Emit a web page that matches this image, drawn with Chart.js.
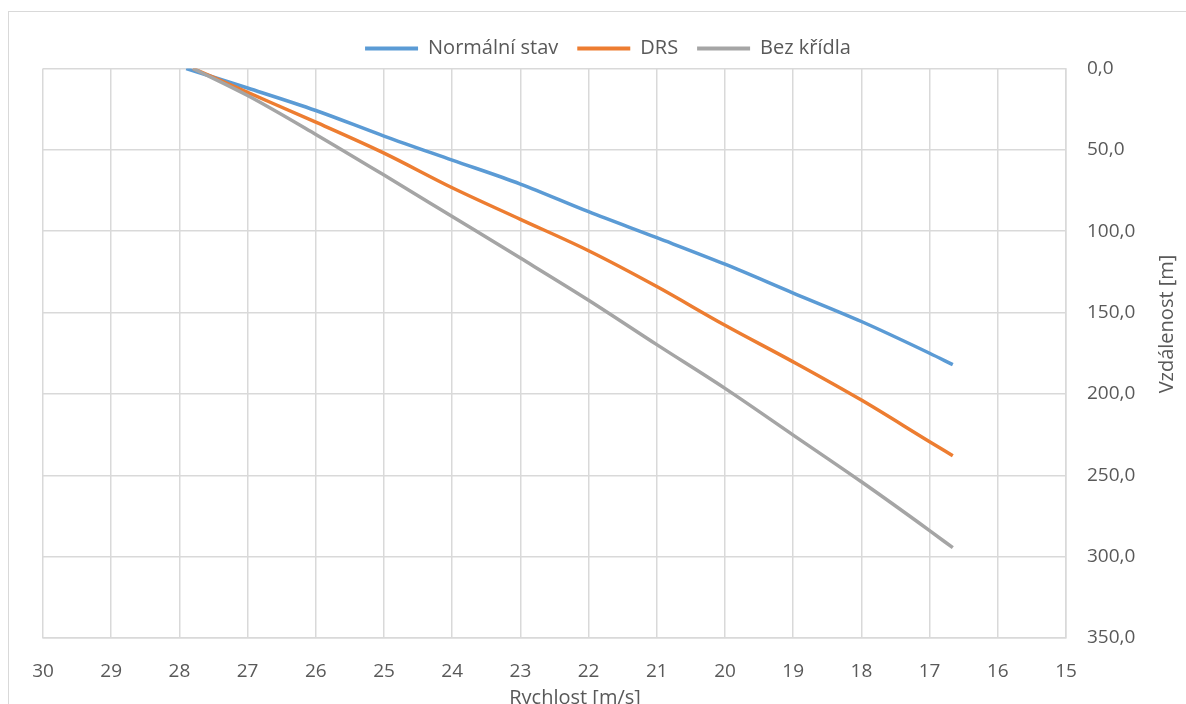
<!DOCTYPE html>
<html>
<head>
<meta charset="utf-8">
<title>Rychlost a vzdálenost</title>
<script src="https://cdn.jsdelivr.net/npm/chart.js@4.4.1/dist/chart.umd.min.js"></script>
<style>
  html, body { margin: 0; padding: 0; background: #fff; overflow: hidden; }
  #wrap { position: relative; width: 1186px; height: 704px; overflow: hidden; }
  #frame { position: absolute; left: 8px; top: 11px; width: 1300px; height: 800px;
           border: 1px solid #d9d9d9; box-sizing: border-box; }
  canvas { position: absolute; left: 0; top: 0; }
</style>
</head>
<body>
<div id="wrap">
  <div id="frame"></div>
  <canvas id="c" width="1186" height="720"></canvas>
</div>
<script>
// Speed [m/s] against distance travelled [m] while braking
const seriesNames = ['Normální stav', 'DRS', 'Bez křídla'];
const seriesColors = ['#5B9BD5', '#ED7D31', '#A5A5A5'];

const speedNormal = [27.9, 27, 26, 25, 24, 23, 22, 21, 20, 19, 18, 17, 16.66];
const distNormal  = [0, 12, 25.8, 41.5, 56.3, 71, 88, 104, 120.3, 138, 155.5, 175, 182];

const speedDrs = [27.8, 27, 26, 25, 24, 23, 22, 21, 20, 19, 18, 17, 16.66];
const distDrs  = [0, 14.7, 33, 52, 73.3, 92.7, 112, 134, 157.8, 180.3, 203.8, 229.4, 238];

const speedNoWing = [27.8, 27, 26, 25, 24, 23, 22, 21, 20, 19, 18, 17, 16.66];
const distNoWing  = [0, 16.6, 40.5, 65.5, 91, 116.5, 142.4, 169.7, 196.6, 225.3, 254, 284, 294.5];

const xTitle = 'Rychlost [m/s]';
const yTitle = 'Vzdálenost [m]';

const FONT = "'Open Sans', 'Noto Sans', sans-serif";
const TEXT = '#595959';
const GRID = '#d9d9d9';

function toPoints(xs, ys) { return xs.map((x, i) => ({ x: x, y: ys[i] })); }

const speeds = [speedNormal, speedDrs, speedNoWing];
const dists = [distNormal, distDrs, distNoWing];

const datasets = seriesNames.map((name, i) => ({
  label: name,
  data: toPoints(speeds[i], dists[i]),
  borderColor: seriesColors[i],
  backgroundColor: seriesColors[i],
  borderWidth: 3.5,
  pointRadius: 0,
  cubicInterpolationMode: 'monotone',
  order: 2 - i
}));

// Axis titles placed like the spreadsheet layout
const axisTitles = {
  id: 'axisTitles',
  afterDraw(chart) {
    const ctx = chart.ctx;
    ctx.save();
    ctx.fillStyle = TEXT;
    ctx.font = '20px ' + FONT;
    ctx.textAlign = 'center';
    ctx.textBaseline = 'middle';
    ctx.fillText(xTitle, 575, 698);
    ctx.translate(1167, 324);
    ctx.rotate(-Math.PI / 2);
    ctx.fillText(yTitle, 0, 0);
    ctx.restore();
  }
};

new Chart(document.getElementById('c'), {
  type: 'line',
  data: { datasets: datasets },
  options: {
    responsive: false,
    devicePixelRatio: 1,
    animation: false,
    layout: { padding: { left: 43, right: 13, top: 19.5, bottom: 0 } },
    plugins: {
      tooltip: { enabled: false },
      legend: {
        position: 'top',
        labels: {
          color: TEXT,
          font: { family: FONT, size: 20 },
          boxWidth: 53,
          boxHeight: 4,
          padding: 19,
          generateLabels(chart) {
            return chart.data.datasets.map((ds, i) => ({
              text: ds.label,
              fillStyle: ds.borderColor,
              strokeStyle: ds.borderColor,
              lineWidth: 0,
              fontColor: TEXT,
              hidden: false,
              datasetIndex: i
            }));
          }
        }
      }
    },
    scales: {
      x: {
        type: 'linear',
        position: 'bottom',
        reverse: true,
        min: 15,
        max: 30,
        afterFit(s) { s.height = 82; },
        grid: { color: GRID, lineWidth: 1.5, drawTicks: false },
        border: { color: GRID, width: 1.5 },
        ticks: {
          stepSize: 1,
          padding: 22,
          color: TEXT,
          font: { family: FONT, size: 19 },
          maxRotation: 0
        }
      },
      y: {
        type: 'linear',
        position: 'right',
        reverse: true,
        min: 0,
        max: 350,
        afterFit(s) { s.width = 107; },
        grid: { color: GRID, lineWidth: 1.5, drawTicks: false },
        border: { color: GRID, width: 1.5 },
        ticks: {
          stepSize: 50,
          padding: 21,
          color: TEXT,
          font: { family: FONT, size: 19 },
          callback: v => v.toFixed(1).replace('.', ',')
        }
      }
    }
  },
  plugins: [axisTitles]
});
</script>
</body>
</html>
